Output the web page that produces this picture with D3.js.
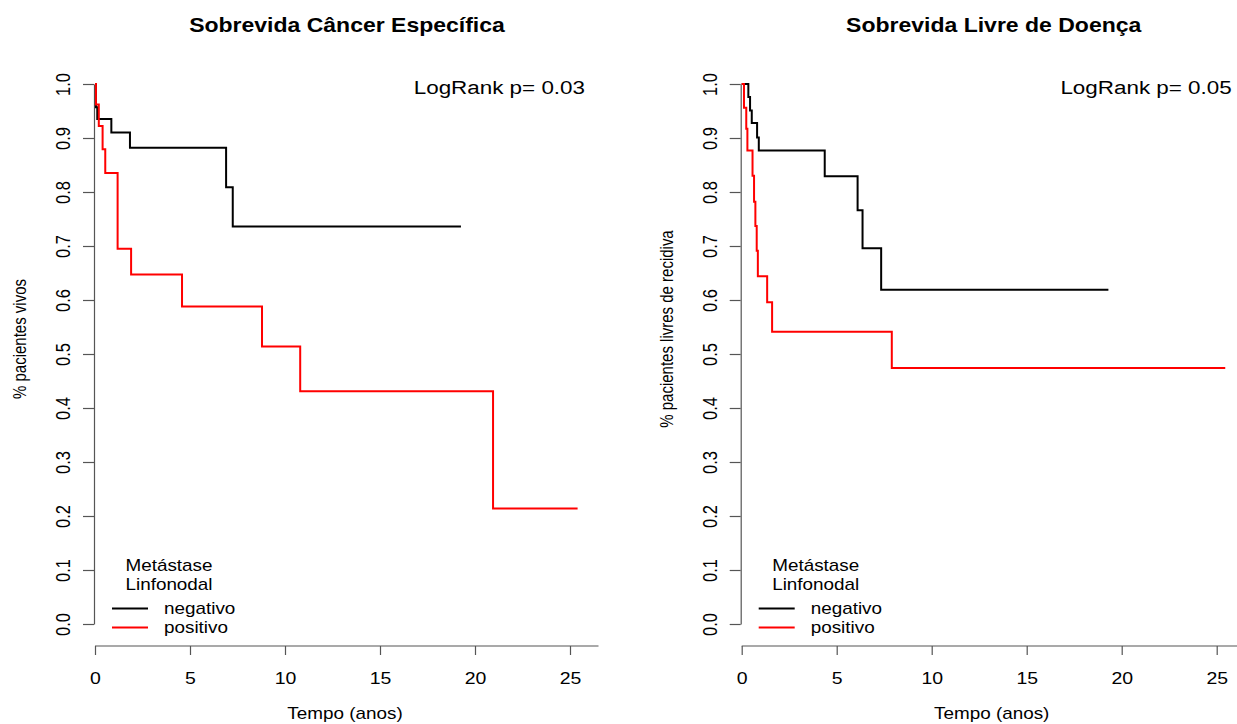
<!DOCTYPE html>
<html>
<head>
<meta charset="utf-8">
<script src="https://cdn.jsdelivr.net/npm/d3@7"></script>
<style>
body{margin:0;background:#fff;}
text{font-family:"Liberation Sans",Arial,sans-serif;fill:#000;}
</style>
</head>
<body>
<script>
// dados
var xTicks=[0,5,10,15,20,25];
var yTicks=[0,0.1,0.2,0.3,0.4,0.5,0.6,0.7,0.8,0.9,1.0];

var titles=["Sobrevida Câncer Específica","Sobrevida Livre de Doença"];
var yLabels=["% pacientes vivos","% pacientes livres de recidiva"];
var pvalues=["LogRank p= 0.03","LogRank p= 0.05"];
var groups=["negativo","positivo"];
var groupColors=["#000000","#ff0000"];

// sobrevida cancer especifica
var cseNegTime=[0,0.05,0.12,0.86,1.84,6.9,7.25,19.26];
var cseNegSurv=[1,0.957,0.935,0.91,0.882,0.809,0.736,0.736];
var csePosTime=[0,0.05,0.2,0.4,0.54,1.19,1.9,4.58,8.79,10.8,20.95,25.4];
var csePosSurv=[1,0.962,0.922,0.879,0.835,0.695,0.647,0.588,0.514,0.431,0.214,0.214];

// sobrevida livre de doenca
var dfsNegTime=[0,0.35,0.44,0.53,0.81,0.9,4.37,6.1,6.36,7.34,19.3];
var dfsNegSurv=[1,0.976,0.951,0.928,0.901,0.877,0.829,0.766,0.696,0.619,0.619];
var dfsPosTime=[0,0.12,0.24,0.3,0.57,0.65,0.72,0.79,0.85,1.34,1.6,7.9,25.45];
var dfsPosSurv=[1,0.956,0.917,0.877,0.83,0.782,0.737,0.691,0.644,0.596,0.541,0.474,0.474];

var w=1237,h=724;
var sx=1.18; // o grafico original esta esticado na horizontal
var svg=d3.select("body").append("svg").attr("width",w).attr("height",h);

var zip=function(t,s){
	return t.map(function(d,i){ return [d,s[i]]; });
};

var panels=[
	{x0:95,title:titles[0],ylab:yLabels[0],ylabY:339,p:pvalues[0],
	 curves:[zip(cseNegTime,cseNegSurv),zip(csePosTime,csePosSurv)]},
	{x0:741.7,title:titles[1],ylab:yLabels[1],ylabY:329,p:pvalues[1],
	 curves:[zip(dfsNegTime,dfsNegSurv),zip(dfsPosTime,dfsPosSurv)]}
];

var addText=function(g,x,y,str,size,anchor,weight){
	return g.append("text")
	.attr("transform","translate("+x+","+y+") scale("+sx+",1)")
	.attr("text-anchor",anchor||"start")
	.style("font-size",size+"px")
	.style("font-weight",weight||"normal")
	.text(str);
};

panels.forEach(function(p){
	var x=d3.scaleLinear().domain([0,25]).range([p.x0,p.x0+475]);
	var y=d3.scaleLinear().domain([0,1]).range([624,84]);
	var g=svg.append("g");

	// eixo x
	var xa=g.append("g").attr("transform","translate(0,646)")
	.call(d3.axisBottom(x).tickValues(xTicks).tickSize(9).tickSizeOuter(0).tickPadding(17));
	xa.select(".domain").remove();
	xa.append("line").attr("x1",x(0)).attr("x2",x(26.5)).attr("y1",0).attr("y2",0);
	xa.selectAll("line").attr("stroke","#555").attr("stroke-width",1.2);
	xa.selectAll("text").attr("transform","scale("+sx+",1)")
	.style("font-size","16.5px").attr("fill","#000");

	// eixo y
	var ya=g.append("g").attr("transform","translate("+(p.x0-1)+",0)")
	.call(d3.axisLeft(y).tickValues(yTicks).tickSize(11).tickSizeOuter(0).tickFormat(d3.format(".1f")));
	ya.select(".domain").attr("stroke","#555").attr("stroke-width",1.2);
	ya.selectAll("line").attr("stroke","#555").attr("stroke-width",1.2);
	ya.selectAll("text")
	.attr("x",null).attr("dy",null).attr("y",0)
	.attr("text-anchor","middle")
	.attr("transform","translate(-24,0) scale("+sx+",1) rotate(-90)")
	.style("font-size","16.5px").attr("fill","#000");

	// curvas
	var line=d3.line()
	.x(function(d){ return x(d[0]); })
	.y(function(d){ return y(d[1]); })
	.curve(d3.curveStepAfter);
	p.curves.forEach(function(c,i){
		g.append("path").datum(c)
		.attr("d",line)
		.attr("fill","none")
		.attr("stroke",groupColors[i])
		.attr("stroke-width",2);
	});

	// textos
	addText(g,p.x0+252,32,p.title,19.5,"middle","bold");
	addText(g,p.x0+490,94,p.p,19,"end");
	addText(g,p.x0+250,719,"Tempo (anos)",16,"middle");
	g.append("text")
	.attr("transform","translate("+(p.x0-69)+","+p.ylabY+") scale("+sx+",1) rotate(-90)")
	.attr("text-anchor","middle")
	.style("font-size","15px")
	.text(p.ylab);

	// legenda
	addText(g,p.x0+74,571,"Metástase",16,"middle");
	addText(g,p.x0+74,590,"Linfonodal",16,"middle");
	groups.forEach(function(gr,i){
		var ly=608.5+i*19;
		g.append("line").attr("x1",p.x0+17).attr("x2",p.x0+53)
		.attr("y1",ly).attr("y2",ly)
		.attr("stroke",groupColors[i]).attr("stroke-width",2);
		addText(g,p.x0+69,ly+5.5,gr,16,"start");
	});
});
</script>
</body>
</html>
